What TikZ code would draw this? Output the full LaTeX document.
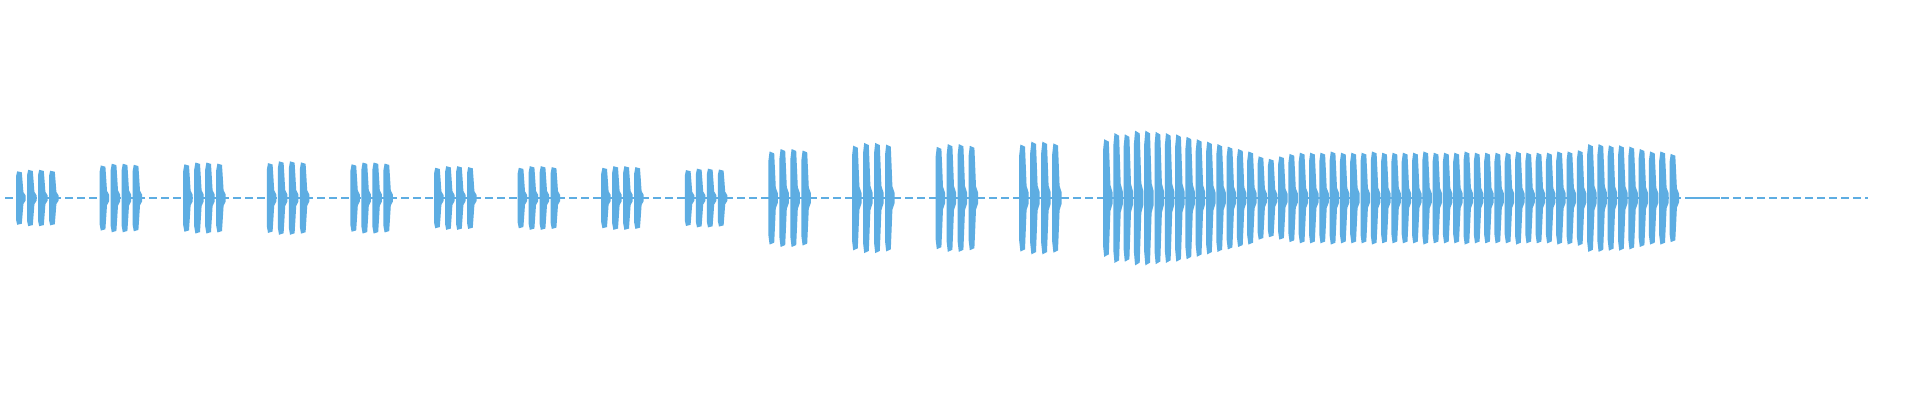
\documentclass[tikz,border=0pt]{standalone}
\definecolor{wave}{RGB}{93,173,226}
\begin{document}
\begin{tikzpicture}[x=0.25pt,y=-0.25pt,
  base/.style={draw=wave,line width=0.3pt,dash pattern=on 2pt off 1pt}]
\useasboundingbox[fill=white] (0,0) rectangle (1920,400);
\def\cy{198}
\newcommand{\wburst}[2]{%
  \fill[wave] (#1,\cy-0.8*#2) -- (#1+1.2,\cy-#2) -- (#1+5.8,\cy-0.96*#2) -- (#1+6.6,\cy-0.6*#2)
   -- (#1+7.4,\cy-0.22*#2) -- (#1+9.5,\cy-0.1*#2) -- (#1+9.5,\cy+0.1*#2) -- (#1+7.4,\cy+0.22*#2)
   -- (#1+6.6,\cy+0.6*#2) -- (#1+5.8,\cy+0.96*#2) -- (#1+1.2,\cy+#2) -- (#1,\cy+0.8*#2) -- cycle;}
\coordinate (bs) at (5,\cy); \coordinate (be) at (1868,\cy);
\draw[base] (bs) -- (be);
\foreach \a [count=\g from 0] in {23,28,29,30,29,26,26,26,24,40,45,44,46}{
  \foreach \f [count=\k from 0] in {0.95,1,1,0.97}{
    \pgfmathsetmacro{\xx}{16+83.6*\g+11*\k}
    \pgfmathsetmacro{\aa}{1.2245*\a*\f}
    \wburst{\xx}{\aa}
  }
}
\foreach \a [count=\i from 0] in {48,53,52,55,55,54,53,52,50,48,46,44,42,40,38,34,32,34,36,37,37,37,38,37,37,37,38,37,37,37,37,38,37,37,37,38,37,37,37,37,38,37,37,37,38,38,39,44,44,43,43,42,40,38,38,36}{
  \pgfmathsetmacro{\xx}{1103+10.3*\i}
  \pgfmathsetmacro{\aa}{1.2245*\a}
  \wburst{\xx}{\aa}
}
\fill[wave] (1690,\cy-1) rectangle (1720,\cy+1);
\end{tikzpicture}
\end{document}
